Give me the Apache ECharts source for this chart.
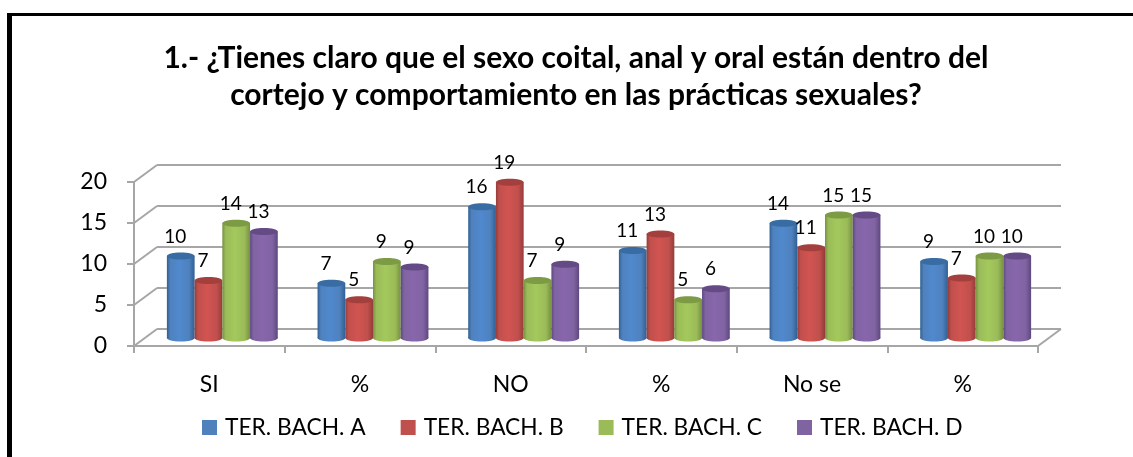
<!DOCTYPE html>
<html><head><meta charset="utf-8">
<style>html,body{margin:0;padding:0;background:#fff}#c{width:1133px;height:457px}</style>
<script src="https://cdn.jsdelivr.net/npm/echarts@6/dist/echarts.min.js"></script>
</head><body><div id="c"></div>
<script>
const categories = ['SI','%','NO','%','No se','%'];
const yTicks = [0,5,10,15,20];
const seriesA = [10,6.67,16,10.67,14,9.33];
const seriesB = [7,4.67,19,12.67,11,7.33];
const seriesC = [14,9.33,7,4.67,15,10];
const seriesD = [13,8.67,9,6,15,10];
const names = ['TER. BACH. A','TER. BACH. B','TER. BACH. C','TER. BACH. D'];
const colours = ['#4f81bd','#c0504d','#9bbb59','#8064a2'];
const edges = ['#2f5f94','#963c39','#769140','#5e4880'];
const tops = ['#386ca3','#a33f3c','#7d9a45','#644b85'];
const lights = ['#5089ce','#d25451','#a3c95c','#8866ac'];
const allValues = [seriesA,seriesB,seriesC,seriesD];
const depthX = 23, depthY = -17, barLift = -8, groupShift = 13, barShare = 0.184, ry = 3.5;
const font = 'Lato, Carlito, sans-serif';
const gray = '#a6a6a6';

function barRender(si){
  return function(params, api){
    const cat = api.value(0), val = api.value(1);
    const top = api.coord([cat,val]), base = api.coord([cat,0]);
    const w = api.size([1,0])[0]*barShare;
    const cx = top[0] + groupShift + (si-1.5)*w;
    const yt = top[1]+barLift, yb = base[1]+barLift;
    const grad = new echarts.graphic.LinearGradient(0,0,1,0,[
      {offset:0,color:edges[si]},{offset:0.12,color:colours[si]},
      {offset:0.45,color:lights[si]},{offset:0.8,color:colours[si]},{offset:1,color:edges[si]}]);
    return {type:'group',children:[
      {type:'ellipse',shape:{cx:cx,cy:yb,rx:w/2,ry:ry},style:{fill:grad}},
      {type:'rect',shape:{x:cx-w/2,y:yt,width:w,height:yb-yt},style:{fill:grad}},
      {type:'ellipse',shape:{cx:cx,cy:yt,rx:w/2,ry:ry},style:{fill:tops[si]}},
      {type:'text',z2:10,style:{x:cx-5.5,y:yt-19.5,text:String(Math.round(val)),
        font:'19px '+font,fill:'#000',align:'center',verticalAlign:'middle'}}
    ]};
  };
}
function wallRender(params, api){
  const p = api.coord([0,api.value(0)]);
  const cs = params.coordSys;
  const x = api.value(1)===1 ? cs.x+cs.width : cs.x;
  return {type:'line',shape:{x1:x,y1:p[1],x2:x+depthX,y2:p[1]+depthY},
    style:{stroke:gray,lineWidth:2}};
}
const chart = echarts.init(document.getElementById('c'));
chart.setOption({
  animation:false,
  backgroundColor:'#fff',
  title:{text:'1.- ¿Tienes claro que el sexo coital, anal y oral están dentro del\ncortejo y comportamiento en las prácticas sexuales?',
    left:571,top:35,textAlign:'center',
    textStyle:{fontFamily:font,fontWeight:'bold',fontSize:30,lineHeight:37,color:'#000'}},
  legend:{data:names.map(n=>({name:n,icon:'rect'})),left:197,top:411,itemWidth:15,itemHeight:15,itemGap:35,
    selectedMode:false,textStyle:{fontFamily:font,fontSize:22.75,color:'#000',padding:[0,0,0,3]}},
  grid:[
    {left:134,top:182,width:904,height:164},
    {left:157,top:165,width:904,height:164}
  ],
  xAxis:[
    {type:'category',gridIndex:0,data:categories,boundaryGap:true,
      axisLine:{lineStyle:{color:gray,width:2}},
      axisTick:{show:true,length:7,lineStyle:{color:gray,width:2},alignWithLabel:false},
      axisLabel:{interval:0,margin:27,fontFamily:font,fontSize:23,color:'#000'}},
    {type:'category',gridIndex:1,data:categories,show:false}
  ],
  yAxis:[
    {type:'value',gridIndex:0,min:0,max:20,interval:5,
      axisLine:{show:true,lineStyle:{color:gray,width:2}},
      axisTick:{show:true,length:7,lineStyle:{color:gray,width:2}},
      splitLine:{show:false},
      axisLabel:{margin:27,padding:[8,0,0,0],fontFamily:font,fontSize:23,color:'#000'}},
    {type:'value',gridIndex:1,min:0,max:20,interval:5,
      axisLine:{show:false},axisTick:{show:false},axisLabel:{show:false},
      splitLine:{show:true,lineStyle:{color:gray,width:2}}}
  ],
  series:[
    {type:'custom',name:'walls',xAxisIndex:0,yAxisIndex:0,silent:true,renderItem:wallRender,z:1,
      encode:{x:-1,y:0},clip:false,
      data:yTicks.map(t=>[t,0]).concat([[0,1]])},
    ...names.map((n,i)=>({type:'custom',name:n,xAxisIndex:0,yAxisIndex:0,z:3+i,clip:false,
      itemStyle:{color:colours[i]},renderItem:barRender(i),encode:{x:0,y:1},
      data:allValues[i].map((v,k)=>[k,v])}))
  ],
  graphic:[
    {type:'rect',shape:{x:7,y:13,width:1126,height:3},style:{fill:'#000'},silent:true},
    {type:'rect',shape:{x:7,y:13,width:5,height:444},style:{fill:'#000'},silent:true}
  ]
});
</script></body></html>
